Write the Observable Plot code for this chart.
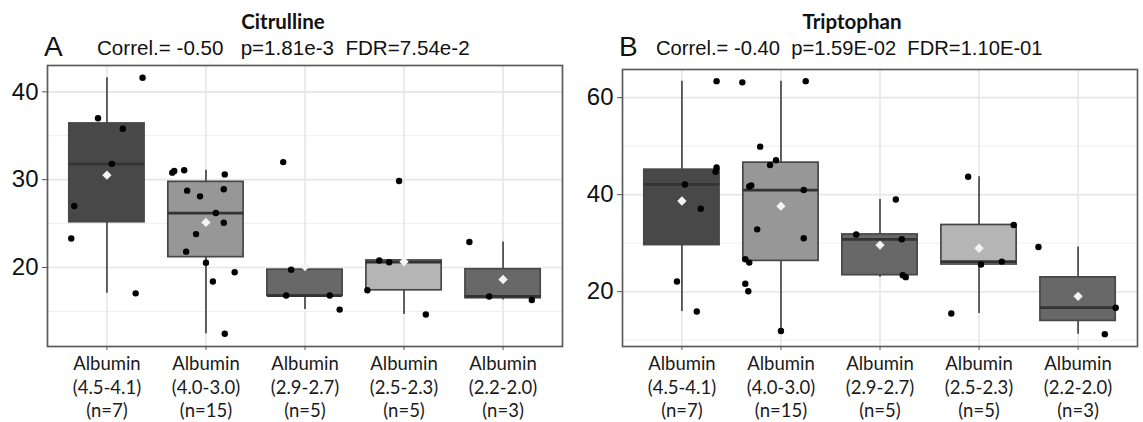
<!DOCTYPE html>
<html><head><meta charset="utf-8">
<script src="https://cdn.jsdelivr.net/npm/d3@7"></script>
<script src="https://cdn.jsdelivr.net/npm/@observablehq/plot@0.6"></script>
<style>
body{margin:0;background:#fff;width:1143px;height:422px;position:relative;overflow:hidden}
.panel{position:absolute;top:60px}
#titles{position:absolute;left:0;top:0}
</style></head><body>
<svg id="titles" width="1143" height="62" xml:space="preserve">
  <text x="283" y="29" text-anchor="middle" font-family="Lato" font-weight="bold" font-size="20.5" fill="#111">Citrulline</text>
  <text x="44" y="56" font-family="Liberation Sans, Arial" font-size="28" fill="#111">A</text>
  <text x="97" y="55" font-family="Liberation Sans, Arial" font-size="20.6" fill="#111" style="white-space:pre">Correl.= -0.50   p=1.81e-3  FDR=7.54e-2</text>
  <text x="852" y="29" text-anchor="middle" font-family="Lato" font-weight="bold" font-size="20.5" fill="#111">Triptophan</text>
  <text x="619" y="56" font-family="Liberation Sans, Arial" font-size="28" fill="#111">B</text>
  <text x="656" y="55" font-family="Liberation Sans, Arial" font-size="20.2" fill="#111" style="white-space:pre">Correl.= -0.40  p=1.59E-02  FDR=1.10E-01</text>
</svg>
<div id="A" class="panel" style="left:0"></div>
<div id="B" class="panel" style="left:570px"></div>
<script>
// Categories (albumin ranges) and group sizes
const ranges = ["(4.5-4.1)", "(4.0-3.0)", "(2.9-2.7)", "(2.5-2.3)", "(2.2-2.0)"];
const counts = [7, 15, 5, 5, 3];
const boxFills = ["#484848", "#979797", "#686868", "#b5b5b5", "#686868"];

// Citrulline values per group
const citrulline1 = [41.6, 37.0, 35.8, 31.8, 27.0, 23.3, 17.05];
const citrulline2 = [30.8, 31.0, 31.07, 30.6, 28.75, 28.1, 28.9, 26.2, 25.1, 23.8, 21.8, 20.55, 19.45, 18.4, 12.45];
const citrulline3 = [32.0, 19.75, 16.8, 16.8, 15.2];
const citrulline4 = [29.85, 20.8, 20.6, 17.4, 14.65];
const citrulline5 = [22.9, 16.7, 16.3];
// horizontal jitter of each point (category units)
const citJitter1 = [0.36, -0.09, 0.16, 0.05, -0.33, -0.36, 0.29];
const citJitter2 = [-0.34, -0.32, -0.22, 0.19, -0.19, -0.06, 0.18, 0.10, 0.18, -0.10, -0.20, 0.0, 0.29, 0.07, 0.19];
const citJitter3 = [-0.22, -0.14, -0.19, 0.25, 0.35];
const citJitter4 = [-0.05, -0.25, -0.15, -0.37, 0.22];
const citJitter5 = [-0.34, -0.14, 0.29];

// Triptophan values per group
const trip1 = [63.4, 42.1, 45.6, 44.7, 37.1, 22.1, 15.9];
const trip2 = [63.15, 63.4, 49.9, 47.1, 46.1, 41.7, 40.95, 32.85, 31.0, 26.7, 26.0, 21.65, 20.1, 11.9, 41.9];
const trip3 = [31.8, 39.0, 30.8, 23.4, 23.0];
const trip4 = [43.7, 33.75, 26.2, 25.6, 15.5];
const trip5 = [29.2, 16.7, 11.25];
const tripJitter1 = [0.35, 0.03, 0.35, 0.34, 0.19, -0.05, 0.15];
const tripJitter2 = [-0.39, 0.25, -0.21, -0.05, -0.11, -0.32, 0.23, -0.24, 0.23, -0.36, -0.32, -0.36, -0.33, 0.0, -0.30];
const tripJitter3 = [-0.24, 0.16, 0.22, 0.23, 0.26];
const tripJitter4 = [-0.11, 0.35, 0.23, 0.02, -0.28];
const tripJitter5 = [-0.40, 0.38, 0.27];

const citYMajor = [20, 30, 40], citYMinor = [15, 25, 35];
const tripYMajor = [20, 40, 60], tripYMinor = [10, 30, 50];

function panel(groups, jitters, cfg) {
  const rows = groups.flatMap((vs, i) => vs.map((v, j) => ({g: i + 1, x: i + 1 + jitters[i][j], v})));
  const stats = groups.map((vs, i) => {
    const s = [...vs].sort(d3.ascending);
    const q1 = d3.quantile(s, 0.25), med = d3.quantile(s, 0.5), q3 = d3.quantile(s, 0.75), iqr = q3 - q1;
    return {g: i + 1, q1, med, q3,
      lo: d3.min(s.filter(v => v >= q1 - 1.5 * iqr)),
      hi: d3.max(s.filter(v => v <= q3 + 1.5 * iqr)),
      mean: d3.mean(s), fill: boxFills[i]};
  });
  const hw = 0.38;
  const cats = d3.range(1, groups.length + 1);
  return Plot.plot({
    width: cfg.width, height: 362,
    marginLeft: cfg.ml, marginRight: cfg.mr, marginTop: cfg.mt, marginBottom: 76,
    x: {type: "linear", domain: [0.4, 5.6]},
    y: {domain: cfg.yDomain},
    color: {type: "identity"},
    style: {background: "white", overflow: "visible"},
    marks: [
      Plot.ruleY(cfg.minor, {stroke: "#eeeeee", strokeWidth: 1}),
      Plot.ruleY(cfg.major, {stroke: "#e6e6e6", strokeWidth: 1.6}),
      Plot.ruleX(cats, {stroke: "#e6e6e6", strokeWidth: 1.6}),
      Plot.ruleX(stats, {x: "g", y1: "lo", y2: "hi", stroke: "#505050", strokeWidth: 1.8}),
      Plot.rect(stats, {x1: d => d.g - hw, x2: d => d.g + hw, y1: "q1", y2: "q3", fill: "fill", stroke: "#474747", strokeWidth: 1.7}),
      Plot.ruleY(stats, {x1: d => d.g - hw, x2: d => d.g + hw, y: "med", stroke: "#333", strokeWidth: 2.8}),
      Plot.dot(rows, {x: "x", y: "v", r: 3.2, fill: "#000"}),
      Plot.dot(stats, {x: "g", y: "mean", symbol: "diamond2", r: 4.2, fill: "#f3f3f3"}),
      Plot.frame({stroke: "#5c5c5c", strokeWidth: 1.7}),
      Plot.axisY({ticks: cfg.major, tickSize: 5, tickPadding: 4, stroke: "#555", fontSize: 24, fontFamily: "Liberation Sans, Arial", fill: "#111", label: null}),
      Plot.axisX({ticks: cats, tickSize: 4, tickPadding: 3, stroke: "#555", fontSize: 18.5, fontFamily: "Lato", fill: "#1a1a1a", lineHeight: 1.27, label: null,
        tickFormat: i => `Albumin\n${ranges[i - 1]}\n(n=${counts[i - 1]})`})
    ]
  });
}

document.getElementById("A").append(panel(
  [citrulline1, citrulline2, citrulline3, citrulline4, citrulline5],
  [citJitter1, citJitter2, citJitter3, citJitter4, citJitter5],
  {width: 570, ml: 47, mr: 8, mt: 5, yDomain: [11, 43], major: citYMajor, minor: citYMinor}));
document.getElementById("B").append(panel(
  [trip1, trip2, trip3, trip4, trip5],
  [tripJitter1, tripJitter2, tripJitter3, tripJitter4, tripJitter5],
  {width: 573, ml: 52, mr: 6, mt: 9, yDomain: [8.7, 65.8], major: tripYMajor, minor: tripYMinor}));
</script>
</body></html>
